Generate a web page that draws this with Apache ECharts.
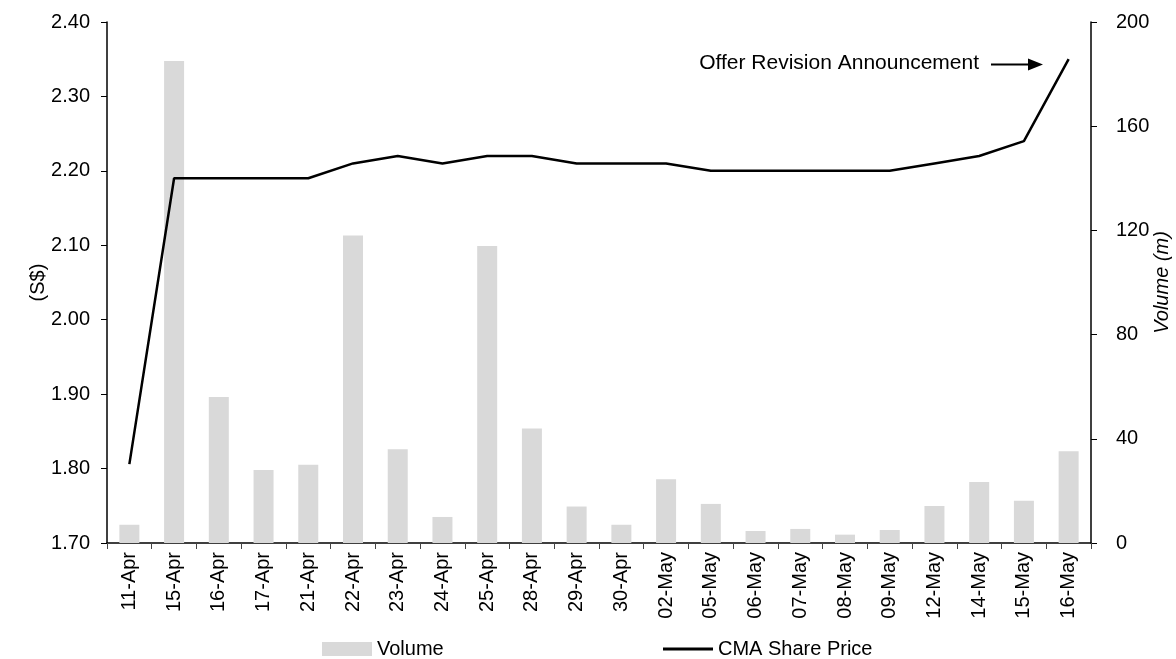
<!DOCTYPE html>
<html>
<head>
<meta charset="utf-8">
<script src="https://cdn.jsdelivr.net/npm/echarts@6/dist/echarts.min.js"></script>
<style>
html,body{margin:0;padding:0;background:#fff;}
#chart{width:1176px;height:659px;}
</style>
</head>
<body>
<div id="chart"></div>
<script>
const categories = ['11-Apr','15-Apr','16-Apr','17-Apr','21-Apr','22-Apr','23-Apr','24-Apr','25-Apr','28-Apr','29-Apr','30-Apr','02-May','05-May','06-May','07-May','08-May','09-May','12-May','14-May','15-May','16-May'];
const volume = [7,185,56,28,30,118,36,10,114,44,14,7,24.5,15,4.6,5.4,3.2,5,14.2,23.4,16.2,35.2];
const price = [1.806,2.19,2.19,2.19,2.19,2.21,2.22,2.21,2.22,2.22,2.21,2.21,2.21,2.20,2.20,2.20,2.20,2.20,2.21,2.22,2.24,2.35];
const annotationText = 'Offer Revision Announcement';

const FONT = 'Liberation Sans, Arial, sans-serif';
const FS = 20;
const chart = echarts.init(document.getElementById('chart'));
chart.setOption({
  animation: false,
  backgroundColor: '#fff',
  textStyle: { fontFamily: FONT, color: '#000' },
  grid: { left: 107, right: 85, top: 22, bottom: 116, containLabel: false, outerBoundsMode: 'none' },
  legend: [
    { data: [{ name: 'Volume', icon: 'rect' }], left: 322, top: 639, padding: 0, itemWidth: 50, itemHeight: 14, itemGap: 0,
      textStyle: { fontFamily: FONT, fontSize: FS, color: '#000' } },
    { data: [{ name: 'CMA Share Price', icon: 'rect' }], left: 663, top: 639, padding: 0, itemWidth: 50, itemHeight: 3,
      textStyle: { fontFamily: FONT, fontSize: FS, color: '#000' } }
  ],
  xAxis: {
    type: 'category',
    data: categories,
    boundaryGap: true,
    axisLine: { lineStyle: { color: '#000', width: 1.5 } },
    axisTick: { show: true, length: 6, lineStyle: { color: '#444' } },
    axisLabel: { rotate: 90, fontSize: FS, color: '#000', fontFamily: FONT, margin: 9, interval: 0 },
    splitLine: { show: false }
  },
  yAxis: [
    {
      type: 'value', min: 1.7, max: 2.4, interval: 0.1, position: 'left',
      name: '(S$)', nameLocation: 'middle', nameGap: 59, nameRotate: 90, nameMoveOverlap: false,
      nameTextStyle: { fontSize: FS, color: '#000', fontFamily: FONT },
      axisLine: { show: true, lineStyle: { color: '#000', width: 1.5 } },
      axisTick: { show: true, length: 6, lineStyle: { color: '#000' } },
      axisLabel: { fontSize: FS, color: '#000', fontFamily: FONT, margin: 17, formatter: v => v.toFixed(2) },
      splitLine: { show: false }
    },
    {
      type: 'value', min: 0, max: 200, interval: 40, position: 'right',
      name: 'Volume (m)', nameLocation: 'middle', nameGap: 61, nameRotate: 90, nameMoveOverlap: false,
      nameTextStyle: { fontSize: FS, color: '#000', fontStyle: 'italic', fontFamily: FONT },
      axisLine: { show: true, lineStyle: { color: '#000', width: 1.5 } },
      axisTick: { show: true, length: 6, lineStyle: { color: '#000' } },
      axisLabel: { fontSize: FS, color: '#000', fontFamily: FONT, margin: 25 },
      splitLine: { show: false }
    }
  ],
  series: [
    {
      name: 'Volume', type: 'bar', yAxisIndex: 1, data: volume,
      barWidth: 20, itemStyle: { color: '#d9d9d9' }, z: 1
    },
    {
      name: 'CMA Share Price', type: 'line', yAxisIndex: 0, data: price,
      symbol: 'none', showSymbol: false,
      lineStyle: { color: '#000', width: 2.5 }, itemStyle: { color: '#000' }, z: 3
    }
  ],
  graphic: [
    { type: 'text', right: 1176 - 979, top: 53,
      style: { text: annotationText, fontSize: 21, fill: '#000', fontFamily: FONT } },
    { type: 'line', shape: { x1: 991, y1: 64.5, x2: 1030, y2: 64.5 }, style: { stroke: '#000', lineWidth: 2 } },
    { type: 'polygon', shape: { points: [[1028, 58.5], [1043, 64.5], [1028, 70.5]] }, style: { fill: '#000' } }
  ]
});
</script>
</body>
</html>
